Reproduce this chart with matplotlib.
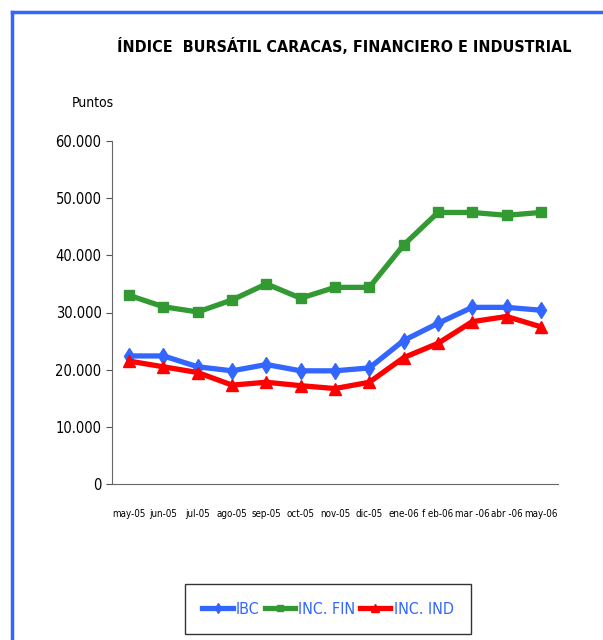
import numpy as np
from matplotlib import pyplot as plt
from matplotlib.lines import Line2D

meses = ["may-05", "jun-05", "jul-05", "ago-05", "sep-05", "oct-05", "nov-05",
         "dic-05", "ene-06", "f eb-06", "mar -06", "abr -06", "may-06"]
ibc = [22400, 22400, 20500, 19800, 20900, 19800, 19800, 20300, 25100, 28100, 30900, 30900, 30400]
inc_fin = [33000, 31000, 30100, 32200, 35000, 32500, 34400, 34400, 41800, 47500, 47500, 47000, 47500]
inc_ind = [21500, 20500, 19500, 17300, 17800, 17200, 16700, 17800, 22100, 24600, 28400, 29300, 27500]

plt.rcParams['font.family'] = ['DejaVu Sans']
plt.rcParams['font.stretch'] = 'condensed'

fig = plt.figure(figsize=(6.03, 6.4), dpi=100)
ax = fig.add_axes([112/603, 1-484/640, 446/603, 343/640])

x = np.arange(len(meses))
ax.plot(x, ibc, color="#3366ff", lw=3.8, marker="d", ms=8, label="IBC")
ax.plot(x, inc_fin, color="#339933", lw=3.8, marker="s", ms=7, label="INC. FIN")
ax.plot(x, inc_ind, color="#ff0000", lw=3.8, marker="^", ms=8, label="INC. IND")

ax.set_xlim(-0.5, len(meses)-0.5)
ax.set_ylim(0, 60000)
ax.set_yticks(np.arange(0, 60001, 10000))
ax.set_yticklabels(["0" if v == 0 else f"{v//1000}.000" for v in range(0, 60001, 10000)], fontsize=10.5)
ax.set_xticks(x)
ax.set_xticklabels(meses, fontsize=7)
ax.tick_params(axis='x', length=0, pad=18)
ax.tick_params(axis='y', length=4, color="#555555")
for s in ["top", "right"]:
    ax.spines[s].set_visible(False)
ax.spines["left"].set_color("#666666")
ax.spines["bottom"].set_color("#666666")

fig.text(344/603, 1-46/640, "ÍNDICE  BURSÁTIL CARACAS, FINANCIERO E INDUSTRIAL",
         ha="center", va="center", fontsize=11.5, fontweight="bold")
fig.text(93/603, 1-103/640, "Puntos", ha="center", va="center", fontsize=10)

# marco azul
fig.add_artist(Line2D([12/603, 12/603], [0, 1-12/640], color="#3366ff", lw=2.5))
fig.add_artist(Line2D([12/603, 1], [1-12/640, 1-12/640], color="#3366ff", lw=2.5))

leg = fig.legend(loc="center", bbox_to_anchor=(328/603, 1-609/640), ncol=3,
                 fontsize=11.5, frameon=True, fancybox=False, edgecolor="black",
                 handlelength=1.9, handletextpad=0.2, columnspacing=0.3,
                 borderpad=1.1, borderaxespad=0, markerscale=0.7)
for t in leg.get_texts():
    t.set_color("#3366ff")

plt.savefig("out.png", dpi=100)
